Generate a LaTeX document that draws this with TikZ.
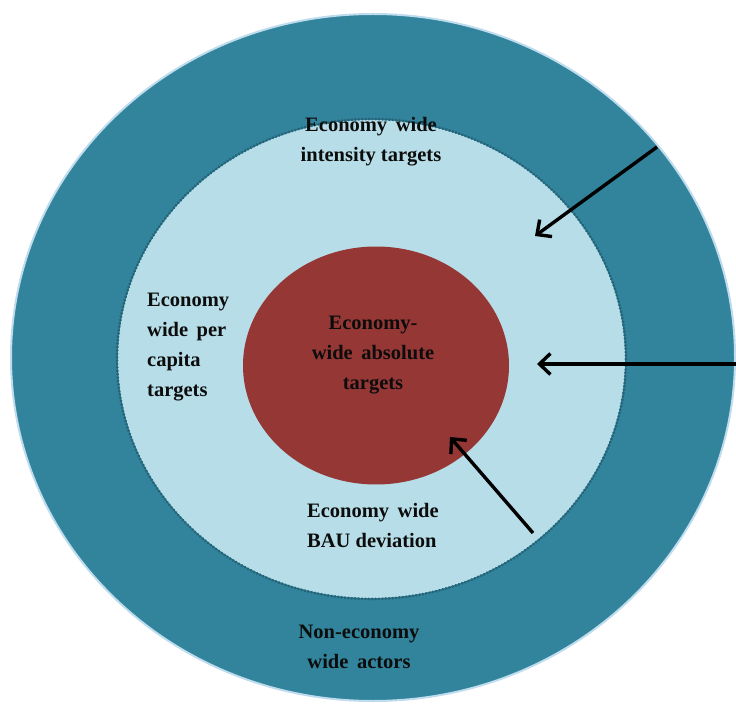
\documentclass[tikz,border=0pt]{standalone}
\usepackage{fontspec}
\setmainfont{Liberation Serif}
\usetikzlibrary{arrows.meta}

\definecolor{outerteal}{RGB}{49,132,155}
\definecolor{outerrim}{RGB}{190,220,238}
\definecolor{innerblue}{RGB}{183,222,232}
\definecolor{innerrim}{RGB}{38,100,122}
\definecolor{corered}{RGB}{149,55,53}
\definecolor{labelink}{RGB}{12,12,12}

\tikzset{
  ringlabel/.style={font=\fontsize{20.5}{30}\selectfont\bfseries, text=labelink, inner sep=0pt},
  pointer/.style={draw=black, line width=3.4pt, -{Straight Barb[length=11pt,width=21pt,line width=3.4pt]}}
}

\begin{document}
\begin{tikzpicture}[x=1pt,y=-1pt]
  \useasboundingbox (0,0) rectangle (736,708);

  % outer ring: actors outside the economy-wide scope
  \fill[outerteal, draw=outerrim, line width=2pt] (373,357.5) ellipse [x radius=362, y radius=343.5];

  % middle ring: economy-wide target types
  \fill[innerblue] (371.5,359) ellipse [x radius=253.5, y radius=239];
  \draw[innerrim, line width=2.8pt, line cap=round, dash pattern=on 0.4pt off 3pt] (371.5,359) ellipse [x radius=254.5, y radius=240];

  % core: absolute targets
  \fill[corered] (376,365.5) ellipse [x radius=133, y radius=119];

  % labels
  \node[ringlabel, align=center] (intensity) at (371,142) {Economy\, wide\\intensity targets};
  \node[ringlabel, align=left, anchor=west] (percapita) at (147,347) {Economy\\wide\, per\\capita\\targets};
  \node[ringlabel, align=center] (absolute) at (373,355) {Economy-\\wide\, absolute\\targets};
  \node[ringlabel, align=left, anchor=west] (bau) at (307,525) {Economy\, wide\\BAU deviation};
  \node[ringlabel, align=center] (actors) at (359,647) {Non-economy\\wide\, actors};

  % arrows pointing inward from the outer ring
  \coordinate (a1s) at (657,147);
  \coordinate (a1e) at (535,236);
  \coordinate (a2s) at (736,364);
  \coordinate (a2e) at (537,364);
  \coordinate (a3s) at (533,533);
  \coordinate (a3e) at (450,437);
  \draw[pointer] (a1s) -- (a1e);
  \draw[pointer] (a2s) -- (a2e);
  \draw[pointer] (a3s) -- (a3e);
\end{tikzpicture}
\end{document}
